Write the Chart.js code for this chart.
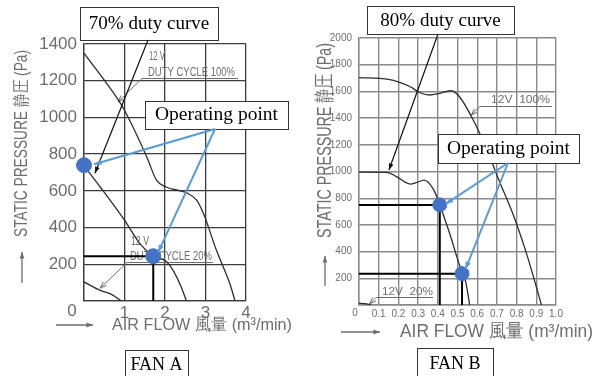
<!DOCTYPE html>
<html>
<head>
<meta charset="utf-8">
<script src="https://cdn.jsdelivr.net/npm/chart.js@4.4.1/dist/chart.umd.min.js"></script>
<style>
body { margin: 0; background: #fff; }
#wrap { position: relative; width: 598px; height: 376px; overflow: hidden; }
#fanA { position: absolute; left: 0; top: 0; }
#fanB { position: absolute; left: 300px; top: 0; }
</style>
</head>
<body>
<div id="wrap">
  <canvas id="fanA" width="300" height="376"></canvas>
  <canvas id="fanB" width="298" height="376"></canvas>
</div>
<script>
// FAN A curves (air flow m3/min -> static pressure Pa)
const fanA_flow100 = [0, 0.85, 1.0, 1.55, 1.79, 2.03, 2.37, 2.54, 2.78, 2.95, 3.27, 3.6, 3.73]
const fanA_pres100 = [1350, 1094, 1039, 785, 658, 621, 600, 589, 549, 476, 276, 95, 0]
const fanA_flow70 = [0, 0.4, 1.0, 1.38, 1.71, 2.03, 2.2, 2.4, 2.53]
const fanA_pres70 = [736, 621, 440, 313, 244, 215, 167, 76, 0]
const fanA_flow20 = [0, 0.4, 0.64, 0.93]
const fanA_pres20 = [104, 58, 40, 0]
const fanA_opFlow = [0, 1.71]
const fanA_opPres = [740, 244]
const fanA_xTicks = [0, 1, 2, 3, 4]
const fanA_yTicks = [200, 400, 600, 800, 1000, 1200, 1400]

// FAN B curves
const fanB_flow100 = [0, 0.15, 0.26, 0.31, 0.36, 0.41, 0.47, 0.51, 0.58, 0.65, 0.71, 0.78, 0.85, 0.9, 0.926]
const fanB_pres100 = [1703, 1690, 1635, 1590, 1573, 1586, 1605, 1560, 1386, 1161, 936, 687, 387, 137, 0]
const fanB_flow80 = [0, 0.14, 0.19, 0.26, 0.29, 0.33, 0.38, 0.41, 0.46, 0.51, 0.54, 0.562]
const fanB_pres80 = [995, 994, 962, 906, 916, 936, 861, 749, 537, 300, 187, 0]
const fanB_flow20 = [0, 0.03, 0.063]
const fanB_pres20 = [13, 10, 0]
const fanB_opFlow = [0.41, 0.523]
const fanB_opPres = [750, 235]
const fanB_xTicks = [0, 0.1, 0.2, 0.3, 0.4, 0.5, 0.6, 0.7, 0.8, 0.9, 1.0]
const fanB_yTicks = [200, 400, 600, 800, 1000, 1200, 1400, 1600, 1800, 2000]

const techFont = "'Liberation Sans Narrow', 'Liberation Sans', Arial, sans-serif"
const serifFont = "'Liberation Serif', 'Times New Roman', serif"
const blue = '#5b9bd5'
const dotBlue = '#4472c4'
const labelGrey = '#6e6e6e'

function pts(xs, ys) {
  return xs.map(function (x, i) { return { x: x, y: ys[i] } })
}

// squeeze text horizontally so it spans w pixels
function fitText(ctx, text, x, y, w) {
  var m = ctx.measureText(text).width
  ctx.save()
  ctx.translate(x, y)
  ctx.scale(w / m, 1)
  ctx.fillText(text, 0, 0)
  ctx.restore()
}

function arrow(ctx, x1, y1, x2, y2, head, open) {
  var a = Math.atan2(y2 - y1, x2 - x1)
  ctx.beginPath()
  ctx.moveTo(x1, y1)
  ctx.lineTo(x2, y2)
  ctx.stroke()
  ctx.beginPath()
  ctx.moveTo(x2 - head * Math.cos(a - 0.35), y2 - head * Math.sin(a - 0.35))
  ctx.lineTo(x2, y2)
  ctx.lineTo(x2 - head * Math.cos(a + 0.35), y2 - head * Math.sin(a + 0.35))
  if (open) {
    ctx.stroke()
  } else {
    ctx.closePath()
    ctx.fill()
  }
}

const notesPlugin = {
  id: 'notes',
  beforeDatasetsDraw: function (chart, args, o) {
    var ctx = chart.ctx
    var sx = chart.scales.x, sy = chart.scales.y
    ctx.save()
    ctx.fillStyle = labelGrey
    ctx.strokeStyle = labelGrey
    ctx.lineWidth = 1.3

    // origin "0", set off to the left of the corner
    ctx.font = o.zero.size + 'px ' + techFont
    ctx.textAlign = 'center'
    ctx.textBaseline = 'top'
    ctx.fillText('0', sx.left - o.zero.dx, sy.bottom + o.zero.dy)
    ctx.textAlign = 'left'

    // y title, rotated
    var yt = o.yTitle
    ctx.font = yt.size + 'px ' + techFont
    ctx.textBaseline = 'middle'
    ctx.save()
    ctx.translate(yt.x, yt.y)
    ctx.rotate(-Math.PI / 2)
    fitText(ctx, 'STATIC PRESSURE 静圧 (Pa)', 0, 0, yt.len)
    ctx.restore()
    arrow(ctx, yt.x, yt.arrow[0], yt.x, yt.arrow[1], 7, false)

    // x title
    var xt = o.xTitle
    ctx.font = xt.size + 'px ' + techFont
    ctx.textBaseline = 'alphabetic'
    fitText(ctx, 'AIR FLOW 風量 (m³/min)', xt.x, xt.y, xt.len)
    arrow(ctx, xt.arrow[0], xt.arrow[2], xt.arrow[1], xt.arrow[2], 7, false)

    // curve labels with underline and leader
    ctx.lineWidth = 1
    o.labels.forEach(function (l) {
      ctx.font = l.size + 'px ' + techFont
      fitText(ctx, l.text, l.x, l.y, l.w)
    })
    o.leaders.forEach(function (l) {
      ctx.beginPath()
      ctx.moveTo(l.under[0], l.under[2])
      ctx.lineTo(l.under[1], l.under[2])
      ctx.stroke()
      arrow(ctx, l.under[0], l.under[2], sx.getPixelForValue(l.to[0]), sy.getPixelForValue(l.to[1]), 7, true)
    })
    ctx.restore()
  },
  afterDatasetsDraw: function (chart, args, o) {
    var ctx = chart.ctx
    var sx = chart.scales.x, sy = chart.scales.y
    ctx.save()

    // text boxes
    o.boxes.forEach(function (b) {
      ctx.fillStyle = '#fff'
      ctx.fillRect(b.x, b.y, b.w, b.h)
      ctx.strokeStyle = '#333'
      ctx.lineWidth = 1
      ctx.strokeRect(b.x + 0.5, b.y + 0.5, b.w, b.h)
      ctx.fillStyle = '#000'
      ctx.font = b.size + 'px ' + serifFont
      ctx.textAlign = 'center'
      ctx.textBaseline = 'middle'
      ctx.fillText(b.text, b.x + b.w / 2, b.y + b.ty)
    })

    // black pointer to duty curve
    ctx.strokeStyle = '#111'
    ctx.fillStyle = '#111'
    ctx.lineWidth = 1.2
    var d = o.dutyArrow
    arrow(ctx, d.from[0], d.from[1], sx.getPixelForValue(d.to[0]), sy.getPixelForValue(d.to[1]), 7, false)

    // blue pointers to operating points
    ctx.strokeStyle = blue
    ctx.fillStyle = blue
    ctx.lineWidth = 2
    o.opArrows.forEach(function (t) {
      arrow(ctx, o.opFrom[0], o.opFrom[1], sx.getPixelForValue(t[0]), sy.getPixelForValue(t[1]), 8, false)
    })
    ctx.restore()
  }
}

function curve(xs, ys) {
  return {
    data: pts(xs, ys),
    borderColor: '#2e2e2e',
    borderWidth: 1.3,
    pointRadius: 0,
    cubicInterpolationMode: 'monotone'
  }
}

function dropLine(x, y, from) {
  return {
    data: [{ x: from, y: y }, { x: x, y: y }, { x: x, y: 0 }],
    borderColor: '#000',
    borderWidth: 2,
    pointRadius: 0,
    tension: 0,
    clip: false
  }
}

function axes(xTicks, yTicks, grid, gridW, tickSize, yWidth, xHeight, xFmt, xPad) {
  return {
    x: {
      type: 'linear', min: xTicks[0], max: xTicks[xTicks.length - 1],
      afterBuildTicks: function (s) { s.ticks = xTicks.map(function (v) { return { value: v } }) },
      ticks: {
        color: labelGrey, padding: xPad, maxRotation: 0, minRotation: 0, autoSkip: false,
        font: { family: techFont, size: tickSize },
        callback: function (v) { return v === 0 ? '' : xFmt(v) }
      },
      grid: { color: grid, lineWidth: gridW, drawTicks: false },
      border: { color: grid, width: gridW },
      afterFit: function (s) { s.height = xHeight }
    },
    y: {
      type: 'linear', min: 0, max: yTicks[yTicks.length - 1],
      afterBuildTicks: function (s) { s.ticks = [0].concat(yTicks).map(function (v) { return { value: v } }) },
      ticks: {
        color: labelGrey, padding: 7, font: { family: techFont, size: tickSize },
        callback: function (v) { return v === 0 ? '' : v }
      },
      grid: { color: grid, lineWidth: gridW, drawTicks: false },
      border: { color: grid, width: gridW },
      afterFit: function (s) { s.width = yWidth }
    }
  }
}

var chartA = new Chart(document.getElementById('fanA'), {
  type: 'line',
  data: {
    datasets: [
      { data: pts(fanA_opFlow, fanA_opPres), showLine: false, pointRadius: 7.5, pointBackgroundColor: dotBlue, pointBorderColor: dotBlue, clip: false },
      dropLine(fanA_opFlow[1], fanA_opPres[1], 0),
      curve(fanA_flow100, fanA_pres100),
      curve(fanA_flow70, fanA_pres70),
      curve(fanA_flow20, fanA_pres20)
    ]
  },
  options: {
    responsive: false,
    animation: false,
    layout: { padding: { left: 0, right: 54, top: 44, bottom: 0 } },
    scales: axes(fanA_xTicks, fanA_yTicks, '#3c3c3c', 1.3, 17, 84, 75, function (v) { return v }, 2),
    plugins: {
      legend: { display: false },
      tooltip: { enabled: false },
      notes: {
        zero: { dx: 12, dy: 2, size: 17 },
        yTitle: { x: 22, y: 237, len: 187, size: 18, arrow: [283, 252] },
        xTitle: { x: 112, y: 330, len: 180, size: 17, arrow: [56, 93, 325] },
        labels: [
          { text: '12 V', x: 149, y: 60, w: 16, size: 12 },
          { text: 'DUTY CYCLE 100%', x: 148, y: 76, w: 87, size: 12 },
          { text: '12 V', x: 131, y: 245, w: 18, size: 12 },
          { text: 'DUTY CYCLE 20%', x: 130, y: 260, w: 82, size: 12 }
        ],
        leaders: [
          { under: [142, 238, 78.5], to: [0.84, 1085] },
          { under: [127, 213, 262.5], to: [0.4, 70] }
        ],
        boxes: [
          { text: '70% duty curve', x: 80, y: 7, w: 138, h: 33, ty: 17, size: 19 },
          { text: 'Operating point', x: 145, y: 101, w: 143, h: 28, ty: 14, size: 19.5 },
          { text: 'FAN A', x: 125, y: 350, w: 63, h: 30, ty: 15, size: 18 }
        ],
        dutyArrow: { from: [148, 40], to: [0.27, 696] },
        opFrom: [215, 129],
        opArrows: [[0.25, 745], [1.83, 265]]
      }
    }
  },
  plugins: [notesPlugin]
})

var chartB = new Chart(document.getElementById('fanB'), {
  type: 'line',
  data: {
    datasets: [
      { data: pts(fanB_opFlow, fanB_opPres), showLine: false, pointRadius: 7, pointBackgroundColor: dotBlue, pointBorderColor: dotBlue, clip: false },
      dropLine(fanB_opFlow[0], fanB_opPres[0], 0),
      dropLine(fanB_opFlow[1], fanB_opPres[1], 0),
      curve(fanB_flow100, fanB_pres100),
      curve(fanB_flow80, fanB_pres80),
      curve(fanB_flow20, fanB_pres20)
    ]
  },
  options: {
    responsive: false,
    animation: false,
    layout: { padding: { left: 0, right: 42, top: 38, bottom: 0 } },
    scales: axes(fanB_xTicks, fanB_yTicks, '#8a8a8a', 1.4, 10, 59, 71, function (v) { return v.toFixed(1) }, 3),
    plugins: {
      legend: { display: false },
      tooltip: { enabled: false },
      notes: {
        zero: { dx: 4, dy: 3, size: 10 },
        yTitle: { x: 25, y: 238, len: 195, size: 21, arrow: [286, 256] },
        xTitle: { x: 100, y: 337, len: 193, size: 19, arrow: [41, 80, 332] },
        labels: [
          { text: '12V  100%', x: 191, y: 103, w: 59, size: 11 },
          { text: '12V  20%', x: 82, y: 295, w: 51, size: 11 }
        ],
        leaders: [
          { under: [180, 252, 106.5], to: [0.57, 1423] },
          { under: [76, 133, 297.5], to: [0.054, 8] }
        ],
        boxes: [
          { text: '80% duty curve', x: 67, y: 6, w: 147, h: 28, ty: 15, size: 19 },
          { text: 'Operating point', x: 138, y: 134, w: 141, h: 29, ty: 15, size: 19.5 },
          { text: 'FAN B', x: 117, y: 348, w: 76, h: 30, ty: 16, size: 18 }
        ],
        dutyArrow: { from: [138, 34], to: [0.152, 1011] },
        opFrom: [208, 163],
        opArrows: [[0.44, 757], [0.54, 267]]
      }
    }
  },
  plugins: [notesPlugin]
})
</script>
</body>
</html>
